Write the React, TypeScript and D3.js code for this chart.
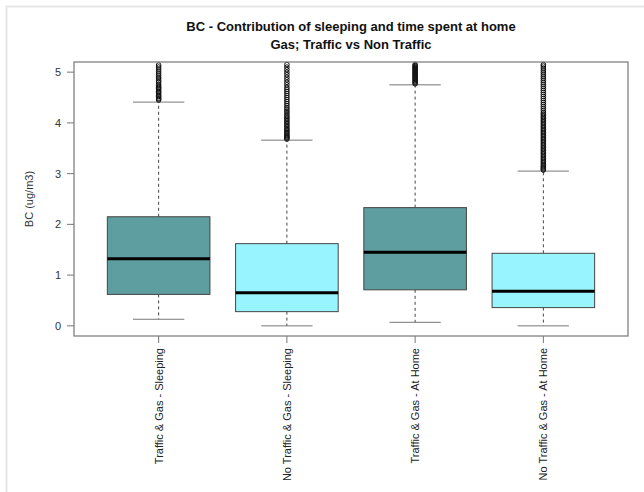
import React from "react";
import * as d3 from "d3";

const categories = [
  "Traffic & Gas - Sleeping",
  "No Traffic & Gas - Sleeping",
  "Traffic & Gas - At Home",
  "No Traffic & Gas - At Home",
];
const lowerWhisker = [0.13, 0.0, 0.07, 0.0];
const q1 = [0.62, 0.28, 0.71, 0.36];
const median = [1.32, 0.65, 1.45, 0.68];
const q3 = [2.15, 1.62, 2.33, 1.43];
const upperWhisker = [4.41, 3.66, 4.75, 3.05];
const boxColors = ["#5F9EA0", "#98F5FF", "#5F9EA0", "#98F5FF"];

const outliers1 = [4.45, 4.47, 4.49, 4.52, 4.54, 4.57, 4.6, 4.62, 4.65, 4.68, 4.7, 4.73, 4.76, 4.8, 4.83, 4.87, 4.9, 4.94, 4.98, 5.02, 5.06, 5.1, 5.14];
const outliers2 = [3.68, 3.7, 3.72, 3.74, 3.76, 3.79, 3.81, 3.84, 3.86, 3.89, 3.92, 3.95, 3.98, 4.01, 4.04, 4.07, 4.1, 4.13, 4.16, 4.2, 4.23, 4.27, 4.3, 4.34, 4.38, 4.42, 4.46, 4.5, 4.54, 4.58, 4.62, 4.66, 4.7, 4.75, 4.8, 4.85, 4.9, 4.95, 5.0, 5.05, 5.1, 5.15];
const outliers3 = [4.77, 4.79, 4.81, 4.83, 4.85, 4.87, 4.89, 4.91, 4.93, 4.95, 4.97, 4.99, 5.01, 5.03, 5.05, 5.07, 5.09, 5.11, 5.13, 5.15];
const outliers4 = [3.07, 3.09, 3.11, 3.13, 3.15, 3.18, 3.21, 3.24, 3.27, 3.3, 3.33, 3.36, 3.39, 3.42, 3.45, 3.48, 3.51, 3.54, 3.57, 3.6, 3.63, 3.66, 3.69, 3.72, 3.75, 3.78, 3.81, 3.84, 3.87, 3.9, 3.93, 3.96, 3.99, 4.02, 4.05, 4.08, 4.11, 4.14, 4.17, 4.2, 4.24, 4.28, 4.32, 4.36, 4.4, 4.44, 4.48, 4.52, 4.56, 4.6, 4.64, 4.68, 4.72, 4.76, 4.8, 4.84, 4.88, 4.92, 4.96, 5.0, 5.04, 5.08, 5.12, 5.15];
const outliers = [outliers1, outliers2, outliers3, outliers4];

const yTicks = [0, 1, 2, 3, 4, 5];
const title1 = "BC - Contribution of sleeping and time spent at home";
const title2 = "Gas; Traffic vs Non Traffic";
const yLabel = "BC (ug/m3)";

export default function App() {
  const W = 644, H = 492;
  const left = 74, right = 628, top = 62, bottom = 336;
  const x = d3.scaleLinear().domain([0.34, categories.length + 0.66]).range([left, right]);
  const y = d3.scaleLinear().domain([-0.2, 5.2]).range([bottom, top]);
  const bw = x(0.8) - x(0);
  const cw = x(0.4) - x(0);
  const font = "Arial, 'Liberation Sans', sans-serif";
  const cx = (left + right) / 2;

  return (
    <svg width={W} height={H} style={{ position: "absolute", left: 0, top: 0, background: "#fff" }} fontFamily={font}>
      <rect x={0} y={0} width={W} height={H} fill="#fff" />
      <line x1={6} y1={6.5} x2={W} y2={6.5} stroke="#e6e6e6" strokeWidth={2} />
      <line x1={6.5} y1={6} x2={6.5} y2={H} stroke="#e6e6e6" strokeWidth={2} />

      <text x={cx} y={31} textAnchor="middle" fontSize={13} fontWeight="bold" fill="#111">{title1}</text>
      <text x={cx} y={49} textAnchor="middle" fontSize={13} fontWeight="bold" fill="#111">{title2}</text>

      {categories.map((c, i) => {
        const xc = x(i + 1);
        return (
          <g key={c}>
            <line x1={xc} x2={xc} y1={y(q3[i])} y2={y(upperWhisker[i])} stroke="#444" strokeDasharray="3,3" />
            <line x1={xc} x2={xc} y1={y(q1[i])} y2={y(lowerWhisker[i])} stroke="#444" strokeDasharray="3,3" />
            <line x1={xc - cw / 2} x2={xc + cw / 2} y1={y(upperWhisker[i])} y2={y(upperWhisker[i])} stroke="#777" />
            <line x1={xc - cw / 2} x2={xc + cw / 2} y1={y(lowerWhisker[i])} y2={y(lowerWhisker[i])} stroke="#777" />
            <rect x={xc - bw / 2} y={y(q3[i])} width={bw} height={y(q1[i]) - y(q3[i])} fill={boxColors[i]} stroke="#444" strokeWidth={1} />
            <line x1={xc - bw / 2} x2={xc + bw / 2} y1={y(median[i])} y2={y(median[i])} stroke="#000" strokeWidth={3} />
            {outliers[i].map((v, j) => (
              <circle key={j} cx={xc} cy={y(v)} r={2.3} fill="none" stroke="#111" strokeWidth={1} />
            ))}
            <line x1={xc} x2={xc} y1={bottom} y2={bottom + 7} stroke="#777" />
            <text transform={`translate(${xc + 4},${bottom + 12}) rotate(-90)`} textAnchor="end" fontSize={11} fill="#222">{c}</text>
          </g>
        );
      })}

      {yTicks.map((t) => (
        <g key={t}>
          <line x1={left - 7} x2={left} y1={y(t)} y2={y(t)} stroke="#777" />
          <text x={61} y={y(t) + 4} textAnchor="end" fontSize={11} fill="#333">{t}</text>
        </g>
      ))}
      <text transform={`translate(33,${(top + bottom) / 2}) rotate(-90)`} textAnchor="middle" fontSize={11} fill="#333">{yLabel}</text>

      <rect x={left} y={top} width={right - left} height={bottom - top} fill="none" stroke="#777" strokeWidth={1.2} />
    </svg>
  );
}
